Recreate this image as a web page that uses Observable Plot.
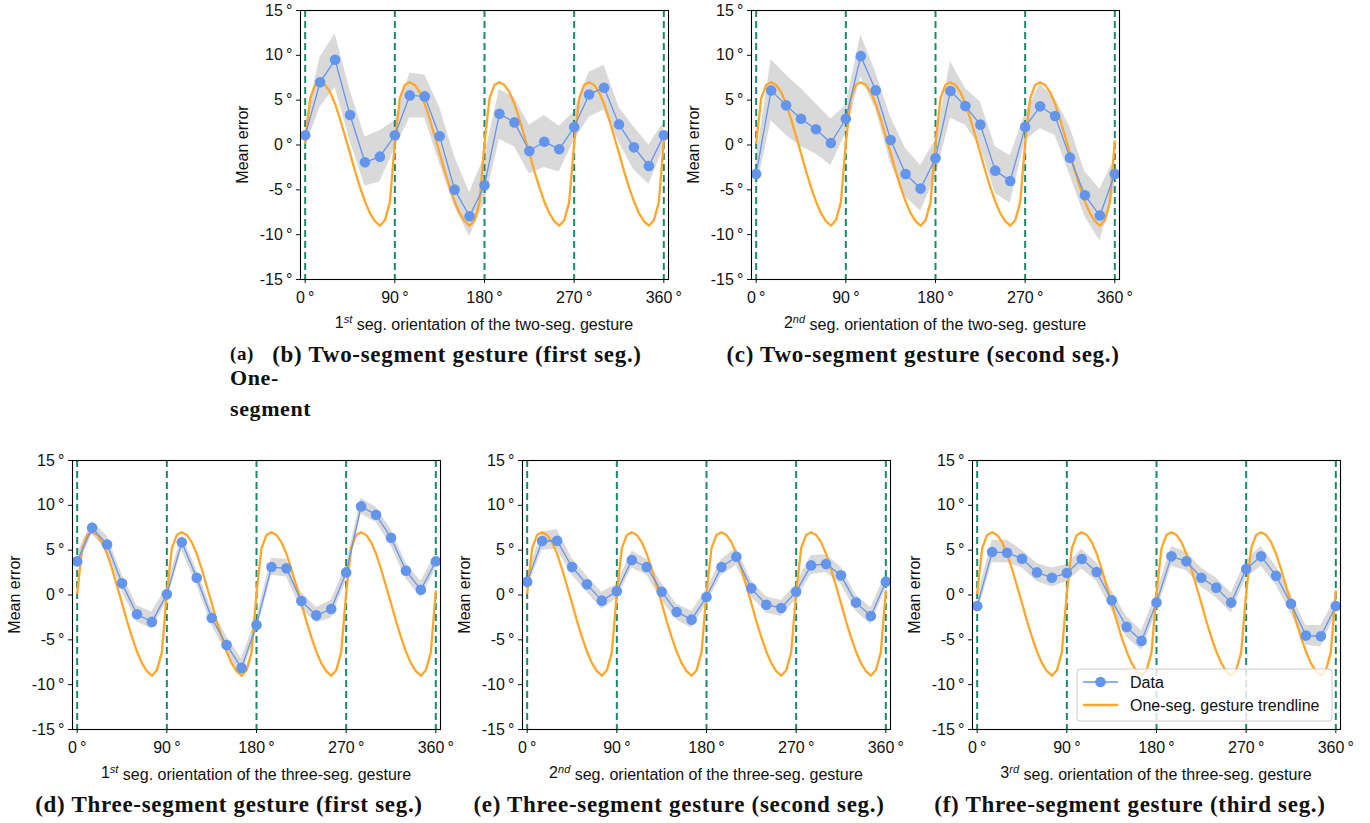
<!DOCTYPE html>
<html><head><meta charset="utf-8">
<script src="https://cdn.jsdelivr.net/npm/d3@7"></script>
<script src="https://cdn.jsdelivr.net/npm/@observablehq/plot@0.6"></script>
<style>
body{margin:0;background:#fff;}
#root{position:relative;width:1370px;height:823px;overflow:hidden;background:#fff;}
.panel{position:absolute;width:478px;height:339px;}
.panel svg{max-width:none;}
#overlay{position:absolute;left:0;top:0;pointer-events:none;}
</style></head><body><div id="root"></div>
<script>
// ---------- data ----------
const ANGLES = [0,15,30,45,60,75,90,105,120,135,150,165,180,195,210,225,240,255,270,285,300,315,330,345,360];
const X_TICKS = [0,90,180,270,360];
const Y_TICKS = [-15,-10,-5,0,5,10,15];

// One-segment trendline (every 5°)
const TREND_X = [0,5,10,15,20,25,30,35,40,45,50,55,60,65,70,75,80,85,
  90,95,100,105,110,115,120,125,130,135,140,145,150,155,160,165,170,175,
  180,185,190,195,200,205,210,215,220,225,230,235,240,245,250,255,260,265,
  270,275,280,285,290,295,300,305,310,315,320,325,330,335,340,345,350,355,360];
const TREND_Y = [0.2,5.2,6.7,7.0,6.7,5.9,4.6,2.9,1.0,-0.9,-2.9,-4.7,-6.3,-7.6,-8.5,-9.0,-8.4,-6.4,
  0.2,5.2,6.7,7.0,6.7,5.9,4.6,2.9,1.0,-0.9,-2.9,-4.7,-6.3,-7.6,-8.5,-9.0,-8.4,-6.4,
  0.2,5.2,6.7,7.0,6.7,5.9,4.6,2.9,1.0,-0.9,-2.9,-4.7,-6.3,-7.6,-8.5,-9.0,-8.4,-6.4,
  0.2,5.2,6.7,7.0,6.7,5.9,4.6,2.9,1.0,-0.9,-2.9,-4.7,-6.3,-7.6,-8.5,-9.0,-8.4,-6.4,0.4];

// (b) two-seg, first seg
const B_MEAN = [1.08,7.0,9.5,3.34,-1.93,-1.30,1.08,5.53,5.42,0.97,-4.98,-7.95,-4.49,3.49,2.52,-0.67,0.37,-0.48,2.0,5.64,6.39,2.30,-0.26,-2.34,1.08];
const B_HI   = [2.5,9.8,12.4,6.1,0.9,1.6,2.7,8.0,7.8,4.2,-1.3,-5.3,-1.3,6.2,5.3,2.2,3.3,2.1,3.7,8.1,8.9,4.2,2.0,0.0,2.5];
const B_LO   = [-0.3,4.2,6.4,0.5,-4.6,-4.1,-0.4,3.0,3.0,-2.1,-6.9,-10.2,-6.5,0.6,-0.2,-3.2,-2.5,-3.0,0.5,3.1,3.9,0.3,-2.8,-4.4,-0.3];
// (c) two-seg, second seg
const C_MEAN = [-3.23,6.09,4.42,2.93,1.75,0.22,2.93,9.91,6.09,0.56,-3.23,-4.86,-1.49,6.02,4.34,2.27,-2.86,-4.01,2.0,4.31,3.23,-1.41,-5.61,-7.87,-3.23];
const C_HI   = [-1.5,9.5,7.8,6.3,4.6,2.9,4.4,12.3,8.1,3.1,-0.4,-2.3,0.5,9.3,6.3,4.8,-0.2,-1.2,3.5,6.8,5.2,2.0,-3.0,-4.9,-1.5];
const C_LO   = [-5.0,2.7,1.1,-0.2,-1.0,-2.3,1.3,7.6,4.0,-2.1,-5.8,-7.4,-3.6,3.0,2.2,-0.2,-5.4,-6.5,0.5,1.8,1.1,-3.4,-8.0,-10.7,-5.0];
// (d) three-seg, first seg
const D_MEAN = [3.75,7.50,5.64,1.30,-2.15,-3.0,0.07,5.87,1.93,-2.56,-5.57,-8.13,-3.34,3.12,2.97,-0.67,-2.27,-1.56,2.52,9.88,8.95,6.39,2.71,0.59,3.75];
const D_HI   = [4.6,8.2,6.6,2.3,-1.2,-1.9,0.9,6.7,2.8,-1.6,-4.6,-7.1,-2.5,4.1,4.0,0.3,-1.4,-0.6,3.4,10.8,9.8,7.3,3.6,1.5,4.6];
const D_LO   = [2.9,6.8,4.8,0.4,-3.0,-3.8,-0.7,5.0,1.1,-3.4,-6.4,-9.0,-4.2,2.2,2.0,-1.6,-3.1,-2.6,1.6,9.0,8.1,5.5,1.8,-0.3,2.9];
// (e) three-seg, second seg
const E_MEAN = [1.49,6.02,6.05,3.12,1.19,-0.63,0.41,3.90,3.12,0.37,-1.89,-2.75,-0.22,3.12,4.27,0.74,-1.08,-1.45,0.37,3.30,3.45,2.19,-0.85,-2.34,1.49];
const E_HI   = [2.3,7.0,7.3,4.1,2.1,0.3,1.2,4.9,4.0,1.3,-1.0,-1.8,0.6,4.0,5.2,1.6,-0.2,-0.6,1.2,4.4,4.5,3.1,0.0,-1.4,2.3];
const E_LO   = [0.7,5.0,5.1,2.2,0.3,-1.6,-0.4,3.0,2.2,-0.6,-2.8,-3.7,-1.0,2.2,3.3,-0.2,-2.0,-2.4,-0.5,2.3,2.5,1.2,-1.8,-3.3,0.7];
// (f) three-seg, third seg
const F_MEAN = [-1.23,4.79,4.72,4.05,2.52,1.93,2.45,4.01,2.56,-0.59,-3.56,-5.12,-0.85,4.31,3.75,1.93,0.82,-0.85,2.90,4.31,2.15,-0.97,-4.53,-4.60,-1.23];
const F_HI   = [-0.4,6.1,6.1,5.0,3.5,3.0,3.4,5.1,3.6,0.5,-2.4,-4.0,0.2,5.4,4.8,3.0,1.9,0.2,3.9,5.4,3.2,0.1,-3.4,-3.4,-0.4];
const F_LO   = [-2.1,3.6,3.6,3.0,1.5,0.9,1.5,2.9,1.5,-1.7,-4.7,-6.2,-1.9,3.2,2.7,0.9,-0.3,-2.0,1.9,3.2,1.1,-2.1,-5.6,-5.8,-2.1];

// ---------- styles / layout ----------
const BLUE = "#6495ed", ORANGE = "#ffa62b", GREEN = "#1a8a6e", BAND = "#d9d9d9";
const SANS = "'Liberation Sans', Arial, Helvetica, sans-serif";
const SERIF = "'Liberation Serif', 'Times New Roman', serif";
const ML = 70, MT = 10, MR = 40, FW = 368, FH = 269;

const panels = [
  {fl:300, ft:10,  mean:B_MEAN, hi:B_HI, lo:B_LO, ord:"1", sup:"st", rest:" seg. orientation of the two-seg. gesture"},
  {fl:751, ft:10,  mean:C_MEAN, hi:C_HI, lo:C_LO, ord:"2", sup:"nd", rest:" seg. orientation of the two-seg. gesture"},
  {fl:72,  ft:460, mean:D_MEAN, hi:D_HI, lo:D_LO, ord:"1", sup:"st", rest:" seg. orientation of the three-seg. gesture"},
  {fl:522, ft:460, mean:E_MEAN, hi:E_HI, lo:E_LO, ord:"2", sup:"nd", rest:" seg. orientation of the three-seg. gesture"},
  {fl:972, ft:460, mean:F_MEAN, hi:F_HI, lo:F_LO, ord:"3", sup:"rd", rest:" seg. orientation of the three-seg. gesture"}
];

const root = document.getElementById("root");
const trend = TREND_X.map((a, i) => ({a, v: TREND_Y[i]}));
const deg = d => `${d}\u2009°`;

for (const p of panels) {
  const data = ANGLES.map((a, i) => ({a, v: p.mean[i], hi: p.hi[i], lo: p.lo[i]}));
  const chart = Plot.plot({
    width: ML + FW + MR, height: MT + FH + 60,
    marginLeft: ML, marginRight: MR, marginTop: MT, marginBottom: 60,
    style: {fontFamily: SANS, fontSize: "16px", color: "#111", background: "transparent", overflow: "visible"},
    x: {domain: [-4.7, 364.7], ticks: X_TICKS, tickFormat: deg, label: null, tickSize: 4, tickPadding: 8},
    y: {domain: [-15, 15], ticks: Y_TICKS, tickFormat: deg, label: null, tickSize: 4, tickPadding: 4},
    marks: [
      Plot.areaY(data, {x: "a", y1: "lo", y2: "hi", fill: BAND, fillOpacity: 1}),
      Plot.ruleX(X_TICKS, {stroke: GREEN, strokeWidth: 2, strokeDasharray: "7,4"}),
      Plot.line(trend, {x: "a", y: "v", stroke: ORANGE, strokeWidth: 2.3}),
      Plot.line(data, {x: "a", y: "v", stroke: BLUE, strokeWidth: 1.3}),
      Plot.dot(data, {x: "a", y: "v", r: 5.3, fill: BLUE, stroke: "none"}),
      Plot.frame({stroke: "#000", strokeWidth: 1.1})
    ]
  });
  const div = document.createElement("div");
  div.className = "panel";
  div.style.left = (p.fl - ML) + "px";
  div.style.top = (p.ft - MT) + "px";
  div.appendChild(chart);
  root.appendChild(div);
}

// ---------- overlay: axis titles, captions, legend ----------
const svg = d3.select(root).append("svg").attr("id", "overlay")
  .attr("width", 1370).attr("height", 823);

for (const p of panels) {
  const cx = p.fl + FW / 2;
  const t = svg.append("text").attr("x", cx).attr("y", p.ft + 317.5)
    .attr("text-anchor", "middle").attr("font-family", SANS).attr("font-size", 16).attr("fill", "#111");
  t.append("tspan").text(p.ord);
  t.append("tspan").attr("dy", "-0.45em").attr("font-size", 11).attr("font-style", "italic").text(p.sup);
  t.append("tspan").attr("dy", "0.45em").text(p.rest);
  svg.append("text")
    .attr("transform", `translate(${p.fl - 52},${p.ft + FH / 2}) rotate(-90)`)
    .attr("text-anchor", "middle").attr("font-family", SANS).attr("font-size", 16).attr("fill", "#111")
    .text("Mean error");
}

const captions = [
  {x: 457, y: 362, t: "(b) Two-segment gesture (first seg.)"},
  {x: 923, y: 362, t: "(c) Two-segment gesture (second seg.)"},
  {x: 229, y: 812, t: "(d) Three-segment gesture (first seg.)"},
  {x: 679, y: 812, t: "(e) Three-segment gesture (second seg.)"},
  {x: 1130, y: 812, t: "(f) Three-segment gesture (third seg.)"}
];
for (const c of captions) {
  svg.append("text").attr("x", c.x).attr("y", c.y).attr("text-anchor", "middle")
    .attr("font-family", SERIF).attr("font-weight", "bold").attr("font-size", 23)
    .attr("letter-spacing", "0.7px").attr("fill", "#111").text(c.t);
}
const aCap = [{y: 360, t: "(a)", s: 19}, {y: 385, t: "One-", s: 22}, {y: 416, t: "segment", s: 22}];
for (const c of aCap) {
  svg.append("text").attr("x", 230).attr("y", c.y).attr("font-family", SERIF)
    .attr("font-weight", "bold").attr("font-size", c.s).attr("letter-spacing", "0.6px")
    .attr("fill", "#111").text(c.t);
}

// legend (panel f)
const lg = svg.append("g");
lg.append("rect").attr("x", 1077).attr("y", 669).attr("width", 255).attr("height", 52)
  .attr("rx", 3).attr("fill", "#fff").attr("fill-opacity", 0.8).attr("stroke", "#cccccc");
lg.append("line").attr("x1", 1083).attr("x2", 1118).attr("y1", 682).attr("y2", 682)
  .attr("stroke", BLUE).attr("stroke-width", 1.3);
lg.append("circle").attr("cx", 1100.5).attr("cy", 682).attr("r", 5.3).attr("fill", BLUE);
lg.append("line").attr("x1", 1083).attr("x2", 1118).attr("y1", 705).attr("y2", 705)
  .attr("stroke", ORANGE).attr("stroke-width", 2.3);
lg.append("text").attr("x", 1130).attr("y", 687.5).attr("font-family", SANS).attr("font-size", 16)
  .attr("fill", "#111").text("Data");
lg.append("text").attr("x", 1130).attr("y", 710.5).attr("font-family", SANS).attr("font-size", 16)
  .attr("fill", "#111").text("One-seg. gesture trendline");
</script></body></html>
